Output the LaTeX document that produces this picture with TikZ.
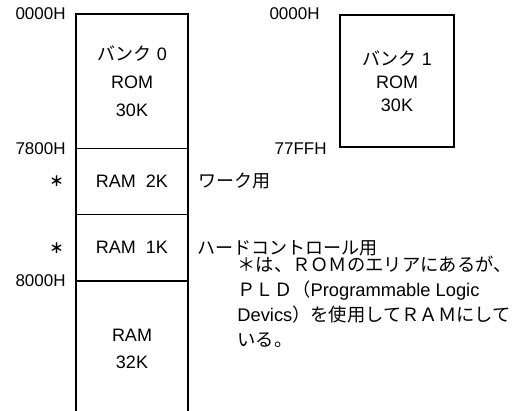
\documentclass[tikz,border=0pt]{standalone}
\usepackage{fontspec}
\setmainfont{Liberation Sans}
\newfontfamily\jpfont{Noto Sans CJK JP}
\usetikzlibrary{positioning}

\begin{document}
\begin{tikzpicture}[x=1pt, y=-1pt,
  font=\fontsize{18}{23}\selectfont,
  region/.style={minimum width=112pt, inner sep=0pt, align=center},
  addr/.style={anchor=east, inner sep=0pt, font=\fontsize{17}{20}\selectfont},
  remark/.style={anchor=west, inner sep=0pt},
  jp/.style={font=\fontsize{18}{23}\selectfont\jpfont},
  wall/.style={line width=2.4pt},
  divider/.style={line width=1.4pt}]
  \useasboundingbox (0,0) rectangle (527,410);
  % bank 0 column
  \node[region, minimum height=134pt] (rom0) at (132,81) {{\jpfont バンク} 0\\[5pt]ROM\\[5pt]30K};
  \node[region, minimum height=66pt, below=0pt of rom0] (ram2) {RAM\ \ 2K};
  \node[region, minimum height=66pt, below=0pt of ram2] (ram1) {RAM\ \ 1K};
  \node[region, minimum height=136pt, below=0pt of ram1] (ram32) {RAM\\[4pt]32K};
  \draw[wall] (ram32.south west) -- (rom0.north west) -- (rom0.north east) -- (ram32.south east);
  \foreach \a in {rom0,ram2,ram1}{ \draw[divider] (\a.south west) -- (\a.south east); }
  \node[addr, left=10pt of rom0.north west] (a0000) {0000H};
  \node[addr, left=10pt of rom0.south west] (a7800) {7800H};
  \node[addr, left=10pt of ram1.south west] (a8000) {8000H};
  \node[addr, left=12pt of ram2.west, font=\fontsize{14}{14}\selectfont\jpfont\bfseries] (star2) {＊};
  \node[addr, left=12pt of ram1.west, font=\fontsize{14}{14}\selectfont\jpfont\bfseries] (star1) {＊};
  \node[remark, jp, right=10pt of ram2.east] (work) {ワーク用};
  \node[remark, jp, right=9pt of ram1.east] (hwctl) {ハードコントロール用};
  \node[remark, align=left, font=\fontsize{18.3}{24}\selectfont, below right=0pt and 40pt of hwctl.south west] (note)
    {{\jpfont ＊は、ＲＯＭのエリアにあるが、}\\[1pt]{\jpfont ＰＬＤ（}Programmable Logic\\[1pt]Devics{\jpfont ）を使用してＲＡＭにして}\\[1pt]{\jpfont いる。}};
  % bank 1
  \node[region, draw, wall, minimum width=114pt, minimum height=132pt] (rom1) at (397,81) {{\jpfont バンク} 1\\ROM\\30K};
  \node[addr, left=19pt of rom1.north west] (b0000) {0000H};
  \node[addr, left=12pt of rom1.south west] (b77ff) {77FFH};
\end{tikzpicture}
\end{document}
